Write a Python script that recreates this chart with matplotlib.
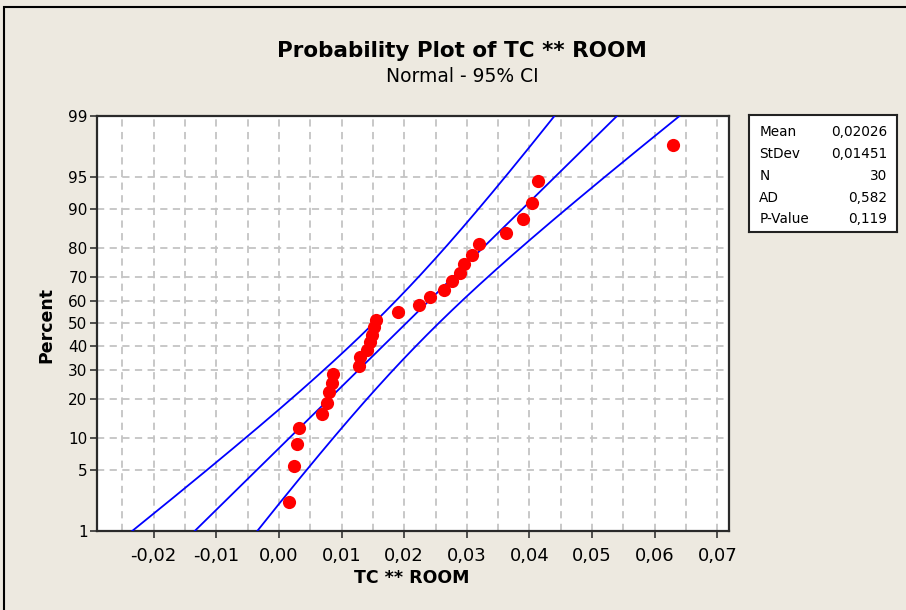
import matplotlib
matplotlib.use('Agg')
import matplotlib.pyplot as plt
from matplotlib.patches import Rectangle
import numpy as np
from statistics import NormalDist

# sorted TC ** ROOM values
tc_room = [0.00156, 0.00236, 0.00290, 0.00316, 0.00689, 0.00769, 0.00794, 0.00850,
           0.00870, 0.01273, 0.01300, 0.01407, 0.01459, 0.01486, 0.01512, 0.01555,
           0.01895, 0.02230, 0.02405, 0.02628, 0.02762, 0.02884, 0.02959, 0.03081,
           0.03187, 0.03628, 0.03895, 0.04038, 0.04128, 0.06297]

pct_ticks = [1, 5, 10, 20, 30, 40, 50, 60, 70, 80, 90, 95, 99]
x_ticks = [-0.02, -0.01, 0.0, 0.01, 0.02, 0.03, 0.04, 0.05, 0.06, 0.07]
x_labels = ['-0,02', '-0,01', '0,00', '0,01', '0,02', '0,03', '0,04', '0,05', '0,06', '0,07']

stat_names = ['Mean', 'StDev', 'N', 'AD', 'P-Value']
stat_values = ['0,02026', '0,01451', '30', '0,582', '0,119']
mean, stdev = 0.02026, 0.01451

bg = '#ede9e0'
W, H = 906, 610

nd = NormalDist()
n = len(tc_room)
ranks = np.arange(1, n + 1)
z_pts = [nd.inv_cdf(p) for p in (ranks - 0.3) / (n + 0.4)]

z_lo, z_hi = nd.inv_cdf(0.01), nd.inv_cdf(0.99)
z_line = np.linspace(z_lo, z_hi, 200)
fit = mean + stdev * z_line
half = 1.96 * stdev * np.sqrt(1 / n + z_line ** 2 / (2 * n))

fig = plt.figure(figsize=(W / 100, H / 100), dpi=100, facecolor=bg)
ax = fig.add_axes([97.3 / W, 1 - 531.3 / H, 632 / W, 415.6 / H])
ax.set_facecolor('white')

ax.plot(fit, z_line, color='#0000ff', lw=1.3, zorder=3)
ax.plot(fit - half, z_line, color='#0000ff', lw=1.3, zorder=3)
ax.plot(fit + half, z_line, color='#0000ff', lw=1.3, zorder=3)
ax.plot(tc_room, z_pts, 'o', color='#ff0000', markersize=9.5, markeredgewidth=0, zorder=4)

ax.set_xlim(-0.029, 0.0719)
ax.set_ylim(z_lo, z_hi)

ax.xaxis.remove_overlapping_locs = False
ax.set_xticks(x_ticks)
ax.set_xticklabels(x_labels, fontsize=13)
ax.set_xticks(np.arange(-0.025, 0.0701, 0.005), minor=True)
ax.set_yticks([nd.inv_cdf(p / 100) for p in pct_ticks])
ax.set_yticklabels([str(p) for p in pct_ticks], fontsize=11)

ax.tick_params(axis='x', which='major', length=5, width=1.2, pad=6, color='#333333')
ax.tick_params(axis='x', which='minor', length=0)
ax.tick_params(axis='y', length=5, width=1.2, pad=2, color='#333333')

gkw = dict(color='#c4c4c4', lw=1.3, linestyle=(0, (4, 3)))
ax.grid(True, which='minor', axis='x', **gkw)
ax.grid(True, which='major', axis='y', **gkw)
ax.set_axisbelow(True)

for s in ax.spines.values():
    s.set_color('#2a2a2a')
    s.set_linewidth(1.6)

fig.text(462 / W, 1 - 51 / H, 'Probability Plot of TC ** ROOM', ha='center', va='center',
         fontsize=15.5, fontweight='bold')
fig.text(462 / W, 1 - 77 / H, 'Normal - 95% CI', ha='center', va='center', fontsize=13.5)
fig.text(412 / W, 1 - 578 / H, 'TC ** ROOM', ha='center', va='center', fontsize=12.5,
         fontweight='bold')
fig.text(46 / W, 1 - 325 / H, 'Percent', ha='center', va='center', rotation=90,
         fontsize=12.5, fontweight='bold')

# stats box
box = fig.add_axes([749 / W, 1 - 231.7 / H, 148.3 / W, 116.7 / H])
box.set_facecolor('white')
box.set_xticks([])
box.set_yticks([])
for s in box.spines.values():
    s.set_color('#222222')
    s.set_linewidth(1.5)
row_y = [132.3, 154.3, 176.5, 197.7, 219.3]
for name, val, py in zip(stat_names, stat_values, row_y):
    fy = 1 - (py - 115) / 116.7
    box.text(10.3 / 148.3, fy, name, ha='left', va='center', fontsize=9.8,
             transform=box.transAxes)
    box.text(138.3 / 148.3, fy, val, ha='right', va='center', fontsize=9.8,
             transform=box.transAxes)

# outer frame of the graph window
fig.patches.append(Rectangle((4 / W, -0.1), 1.0, 1.1 - 7 / H, transform=fig.transFigure,
                             fill=False, edgecolor='black', lw=1.5, clip_on=False))

fig.savefig('out.png', dpi=100, facecolor=bg)
plt.close(fig)
